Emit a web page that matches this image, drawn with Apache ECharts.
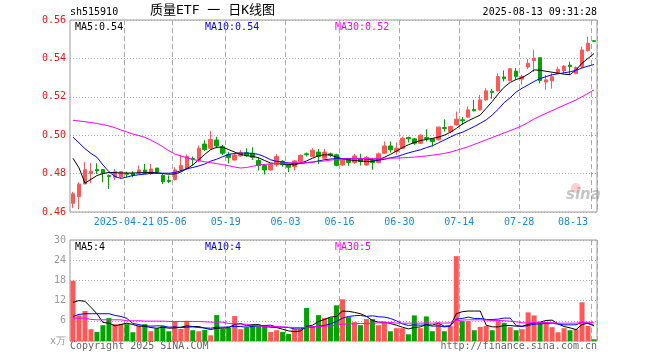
<!DOCTYPE html>
<html><head><meta charset="utf-8">
<script src="https://cdn.jsdelivr.net/npm/echarts@6/dist/echarts.min.js"></script>
<style>html,body{margin:0;padding:0;background:#fff}#c{width:660px;height:360px}</style>
</head><body><div id="c"></div>
<script>
const dates = ['2025-04-08','2025-04-09','2025-04-10','2025-04-11','2025-04-14','2025-04-15','2025-04-16','2025-04-17','2025-04-18','2025-04-21',
'2025-04-22','2025-04-23','2025-04-24','2025-04-25','2025-04-28','2025-04-29','2025-04-30','2025-05-06','2025-05-07','2025-05-08',
'2025-05-09','2025-05-12','2025-05-13','2025-05-14','2025-05-15','2025-05-16','2025-05-19','2025-05-20','2025-05-21','2025-05-22',
'2025-05-23','2025-05-26','2025-05-27','2025-05-28','2025-05-29','2025-05-30','2025-06-03','2025-06-04','2025-06-05','2025-06-06',
'2025-06-09','2025-06-10','2025-06-11','2025-06-12','2025-06-13','2025-06-16','2025-06-17','2025-06-18','2025-06-19','2025-06-20',
'2025-06-23','2025-06-24','2025-06-25','2025-06-26','2025-06-27','2025-06-30','2025-07-01','2025-07-02','2025-07-03','2025-07-04',
'2025-07-07','2025-07-08','2025-07-09','2025-07-10','2025-07-11','2025-07-14','2025-07-15','2025-07-16','2025-07-17','2025-07-18',
'2025-07-21','2025-07-22','2025-07-23','2025-07-24','2025-07-25','2025-07-28','2025-07-29','2025-07-30','2025-07-31','2025-08-01',
'2025-08-04','2025-08-05','2025-08-06','2025-08-07','2025-08-08','2025-08-11','2025-08-12','2025-08-13'];

const opens = [.4645,.4680,.4746,.4800,.4822,.4821,.4790,.4781,.4783,.4800,
.4800,.4802,.4819,.4802,.4829,.4790,.4764,.4769,.4819,.4824,
.4878,.4868,.4954,.4932,.4975,.4940,.4900,.4871,.4892,.4909,
.4906,.4868,.4842,.4819,.4847,.4864,.4847,.4836,.4862,.4903,
.4890,.4912,.4880,.4903,.4898,.4845,.4875,.4858,.4880,.4845,
.4868,.4858,.4906,.4944,.4915,.4932,.4988,.4981,.4958,.4988,
.4981,.4976,.5040,.5019,.5054,.5080,.5094,.5134,.5132,.5184,
.5229,.5231,.5303,.5285,.5334,.5292,.5355,.5389,.5404,.5277,
.5284,.5322,.5336,.5365,.5322,.5357,.5440,.5492];
const closes = [.4695,.4745,.4820,.4812,.4814,.4802,.4784,.4810,.4810,.4797,
.4791,.4819,.4802,.4824,.4807,.4758,.4759,.4819,.4842,.4889,
.4873,.4932,.4925,.4978,.4944,.4906,.4883,.4897,.4909,.4893,
.4885,.4842,.4819,.4847,.4889,.4847,.4833,.4866,.4895,.4898,
.4922,.4889,.4912,.4896,.4843,.4872,.4858,.4892,.4863,.4885,
.4858,.4903,.4944,.4924,.4932,.4984,.4981,.4958,.5000,.4983,
.4967,.5042,.5035,.5045,.5083,.5075,.5132,.5127,.5184,.5231,
.5223,.5306,.5295,.5346,.5306,.5306,.5375,.5401,.5285,.5288,
.5305,.5343,.5360,.5358,.5353,.5444,.5479,.5489];
const lows = [.4620,.4615,.4745,.4750,.4798,.4755,.4720,.4767,.4775,.4781,
.4781,.4798,.4798,.4793,.4798,.4746,.4750,.4764,.4807,.4819,
.4842,.4859,.4918,.4926,.4932,.4897,.4853,.4867,.4888,.4888,
.4871,.4816,.4795,.4816,.4836,.4836,.4807,.4816,.4854,.4889,
.4885,.4850,.4871,.4885,.4838,.4840,.4840,.4851,.4842,.4840,
.4820,.4854,.4903,.4910,.4898,.4927,.4962,.4950,.4955,.4967,
.4941,.4972,.5019,.5010,.5049,.5054,.5089,.5124,.5129,.5180,
.5190,.5228,.5280,.5280,.5289,.5263,.5344,.5330,.5270,.5237,
.5242,.5318,.5322,.5314,.5317,.5350,.5435,.5487];
const highs = [.4705,.4755,.4860,.4854,.4854,.4823,.4796,.4824,.4812,.4810,
.4812,.4842,.4850,.4850,.4829,.4798,.4790,.4833,.4897,.4900,
.4889,.4946,.4974,.5022,.4992,.4949,.4914,.4906,.4923,.4932,
.4937,.4885,.4850,.4854,.4902,.4871,.4850,.4871,.4900,.4910,
.4932,.4928,.4928,.4910,.4903,.4880,.4880,.4903,.4903,.4892,
.4880,.4910,.4967,.4967,.4962,.4993,.4993,.4984,.5005,.5031,
.4984,.5045,.5083,.5049,.5123,.5094,.5150,.5184,.5210,.5245,
.5240,.5323,.5337,.5350,.5350,.5315,.5396,.5445,.5404,.5313,
.5323,.5357,.5365,.5383,.5358,.5461,.5513,.5493];

const ma5 = [.4880,.4830,.4750,.4770,.4790,.4800,.4806,.4805,.4803,.4803,
.4803,.4804,.4805,.4806,.4804,.4800,.4797,.4798,.4808,.4825,
.4845,.4872,.4900,.4925,.4937,.4938,.4925,.4912,.4900,.4893,
.4890,.4882,.4868,.4855,.4852,.4850,.4848,.4845,.4855,.4866,
.4880,.4893,.4898,.4897,.4885,.4877,.4872,.4868,.4865,.4864,
.4864,.4870,.4885,.4900,.4917,.4935,.4950,.4962,.4972,.4978,
.4983,.4990,.5000,.5015,.5035,.5058,.5075,.5090,.5105,.5140,
.5175,.5215,.5250,.5275,.5290,.5300,.5318,.5340,.5338,.5333,
.5328,.5323,.5318,.5315,.5340,.5375,.5400,.5425];
const ma10 = [.4990,.4960,.4930,.4905,.4885,.4845,.4810,.4785,.4775,.4782,
.4790,.4794,.4797,.4801,.4802,.4802,.4802,.4805,.4815,.4825,
.4832,.4840,.4850,.4865,.4875,.4888,.4900,.4905,.4907,.4907,
.4905,.4900,.4888,.4872,.4864,.4860,.4856,.4852,.4853,.4856,
.4860,.4866,.4872,.4876,.4878,.4878,.4878,.4878,.4877,.4876,
.4872,.4870,.4874,.4882,.4888,.4898,.4908,.4916,.4924,.4935,
.4945,.4960,.4975,.4990,.5005,.5015,.5030,.5045,.5062,.5080,
.5105,.5135,.5170,.5195,.5225,.5245,.5262,.5280,.5295,.5305,
.5315,.5320,.5325,.5330,.5338,.5350,.5360,.5368];
const ma30 = [.5078,.5074,.5070,.5066,.5061,.5055,.5048,.5039,.5027,.5017,
.5006,.4998,.4989,.4975,.4958,.4940,.4919,.4902,.4892,.4883,
.4874,.4867,.4862,.4857,.4852,.4847,.4841,.4834,.4829,.4832,
.4838,.4845,.4848,.4851,.4853,.4854,.4855,.4856,.4857,.4858,
.4860,.4863,.4866,.4870,.4874,.4876,.4877,.4878,.4878,.4879,
.4879,.4879,.4880,.4880,.4881,.4882,.4884,.4886,.4889,.4892,
.4896,.4900,.4905,.4912,.4921,.4930,.4940,.4952,.4964,.4976,
.4988,.5000,.5012,.5024,.5036,.5050,.5066,.5085,.5100,.5114,
.5128,.5142,.5156,.5170,.5184,.5200,.5218,.5236];

const volumes = [17.9,7.6,8.9,3.5,2.7,4.7,6.8,5.0,5.1,5.0,
2.6,4.5,5.0,2.9,3.8,4.4,2.9,5.7,3.6,6.0,
3.2,2.9,3.3,1.7,7.7,3.6,3.9,7.4,3.5,4.0,
5.0,4.4,4.5,2.7,3.2,2.7,2.1,3.5,3.5,9.8,
4.4,7.7,6.8,7.0,10.6,12.4,7.1,5.6,4.7,6.5,
6.5,4.7,5.5,2.9,3.8,3.8,2.0,7.6,3.8,7.3,
2.9,5.0,2.9,4.4,25.2,5.9,5.9,3.2,4.2,4.5,
3.2,5.9,5.4,4.1,3.2,3.5,8.5,7.6,5.4,5.6,
4.1,2.6,3.8,3.2,3.5,11.5,4.5,0.5];
const vma5 = [11.5,12.0,11.8,10.0,8.1,5.5,5.3,4.5,4.9,5.3,
4.9,4.4,4.4,4.0,3.8,4.1,3.8,3.9,4.1,4.5,
4.3,4.3,3.8,3.4,3.8,3.8,4.0,4.9,5.2,4.5,
4.8,4.9,4.3,4.1,4.0,3.5,3.0,2.8,3.0,4.3,
4.7,5.8,6.4,7.1,7.3,8.9,8.8,8.5,8.1,7.3,
6.1,5.6,5.6,5.2,4.7,4.1,3.6,4.0,4.2,4.9,
4.7,5.3,4.4,4.5,8.1,8.7,8.9,8.9,8.9,4.7,
4.2,4.2,4.6,4.6,4.4,4.4,4.9,5.4,5.6,6.1,
6.2,5.1,4.3,3.9,3.4,4.9,5.3,4.6];
const vma10 = [7.3,7.9,8.1,8.1,8.1,8.1,8.1,7.6,7.3,6.7,
5.2,4.9,4.5,4.4,4.5,4.5,4.1,4.2,4.0,4.1,
4.2,4.0,3.9,3.8,4.1,4.1,4.2,4.3,4.3,4.1,
4.3,4.5,4.6,4.7,4.2,4.1,4.0,3.6,3.6,4.1,
4.1,4.4,4.6,5.1,5.8,6.8,7.3,7.5,7.6,7.3,
7.5,7.2,7.1,6.7,6.0,5.1,4.6,4.8,4.7,4.8,
4.4,4.5,4.2,4.4,6.5,6.7,7.1,6.7,6.7,6.4,
6.4,6.5,6.8,6.8,4.6,4.3,4.6,5.0,5.1,5.2,
5.3,5.0,4.8,4.8,4.8,5.6,5.2,4.5];
const vma30 = [6.8,6.8,6.8,6.4,6.3,6.3,6.3,6.3,6.3,6.0,
6.0,6.0,5.9,5.9,5.9,5.9,5.8,5.8,5.8,5.8,
5.8,5.8,5.7,5.6,5.6,5.6,5.2,5.1,5.0,5.0,
4.6,4.5,4.3,4.3,4.3,4.2,4.1,4.0,4.0,4.1,
4.2,4.3,4.4,4.5,4.7,5.0,5.1,5.1,5.2,5.2,
5.3,5.4,5.4,5.5,5.3,5.3,5.3,5.3,5.3,5.4,
5.3,5.4,5.3,5.4,6.1,6.2,6.3,6.3,6.3,6.2,
6.1,6.1,6.0,5.9,5.7,5.4,5.4,5.5,5.5,5.5,
5.4,5.3,5.3,5.3,5.3,5.5,5.6,5.4];

const tickDates = ['2025-04-21','2025-05-06','2025-05-19','2025-06-03','2025-06-16','2025-06-30','2025-07-14','2025-07-28','2025-08-13'];
const tickLabels = ['2025-04-21','05-06','05-19','06-03','06-16','06-30','07-14','07-28','08-13'];

const RED = '#ff5656', GREEN = '#04a304';
const MONO = 'DejaVu Sans Mono';
const GRID = '#aaaaaa';
const showTick = (i, v) => tickDates.indexOf(v) >= 0;

const chart = echarts.init(document.getElementById('c'), null, {renderer: 'canvas'});
function maLine(name, data, color, xi) {
  return {name, type: 'line', data, xAxisIndex: xi, yAxisIndex: xi, symbol: 'none',
    lineStyle: {color, width: 1}, itemStyle: {color}, z: 3, silent: true};
}
function catAxis(gi, showLabel) {
  return {type: 'category', gridIndex: gi, data: dates, boundaryGap: true,
    axisLine: {show: false}, axisTick: {show: false},
    axisLabel: {show: showLabel, interval: showTick, color: '#1a88d8', fontFamily: MONO, fontSize: 10,
      margin: 5, padding: [0, 6, 0, 0], alignMaxLabel: 'right',
      formatter: v => tickLabels[tickDates.indexOf(v)] || ''},
    splitLine: {show: true, interval: showTick, lineStyle: {color: GRID, type: [5, 3], width: 1}}};
}
const option = {
  animation: false,
  backgroundColor: '#fff',
  grid: [
    {left: 70, top: 20, width: 527, height: 192, show: true, borderColor: '#999', borderWidth: 1, backgroundColor: 'transparent'},
    {left: 70, top: 240, width: 527, height: 101, show: true, borderColor: '#999', borderWidth: 1, backgroundColor: 'transparent'}
  ],
  xAxis: [catAxis(0, true), catAxis(1, false)],
  yAxis: [
    {type: 'value', gridIndex: 0, min: 0.46, max: 0.56, interval: 0.02,
      axisLine: {show: false}, axisTick: {show: false},
      axisLabel: {color: '#ee1111', fontFamily: MONO, fontSize: 10, margin: 4, formatter: v => v.toFixed(2)},
      splitLine: {lineStyle: {color: GRID, type: [1, 2]}}},
    {type: 'value', gridIndex: 1, min: 0, max: 30, interval: 6,
      axisLine: {show: false}, axisTick: {show: false},
      axisLabel: {color: '#999', fontFamily: MONO, fontSize: 10, margin: 4, formatter: v => v === 0 ? 'x万' : String(v)},
      splitLine: {lineStyle: {color: GRID, type: [1, 2]}}}
  ],
  series: [
    {name: 'K', type: 'candlestick', xAxisIndex: 0, yAxisIndex: 0, barWidth: 4,
      data: opens.map((o, i) => [o, closes[i], lows[i], highs[i]]),
      itemStyle: {color: RED, color0: GREEN, borderColor: RED, borderColor0: GREEN, borderWidth: 1}, z: 2},
    maLine('MA5', ma5, '#000000', 0),
    maLine('MA10', ma10, '#0000ff', 0),
    maLine('MA30', ma30, '#ff00ff', 0),
    {name: 'VOL', type: 'bar', xAxisIndex: 1, yAxisIndex: 1, barWidth: 5,
      data: volumes.map((v, i) => ({value: v, itemStyle: {color: closes[i] >= opens[i] ? RED : GREEN}})), z: 2},
    maLine('VMA5', vma5, '#000000', 1),
    maLine('VMA10', vma10, '#0000ff', 1),
    maLine('VMA30', vma30, '#ff00ff', 1)
  ],
  graphic: [
    {type: 'text', left: 70, top: 7, style: {text: 'sh515910', font: '10px "DejaVu Sans Mono"', fill: '#000'}},
    {type: 'text', left: 150, top: 4, style: {text: '质量ETF 一 日K线图', font: '13px "DejaVu Sans Mono", "Noto Sans CJK SC"', fill: '#000'}},
    {type: 'text', right: 63, top: 7, style: {text: '2025-08-13 09:31:28', font: '10px "DejaVu Sans Mono"', fill: '#000'}},
    {type: 'text', left: 75, top: 22, style: {text: 'MA5:0.54', font: '10px "DejaVu Sans Mono"', fill: '#000'}},
    {type: 'text', left: 205, top: 22, style: {text: 'MA10:0.54', font: '10px "DejaVu Sans Mono"', fill: '#0000ff'}},
    {type: 'text', left: 335, top: 22, style: {text: 'MA30:0.52', font: '10px "DejaVu Sans Mono"', fill: '#ff00ff'}},
    {type: 'text', left: 75, top: 242, style: {text: 'MA5:4', font: '10px "DejaVu Sans Mono"', fill: '#000'}},
    {type: 'text', left: 205, top: 242, style: {text: 'MA10:4', font: '10px "DejaVu Sans Mono"', fill: '#0000ff'}},
    {type: 'text', left: 335, top: 242, style: {text: 'MA30:5', font: '10px "DejaVu Sans Mono"', fill: '#ff00ff'}},
    {type: 'text', left: 70, top: 341, style: {text: 'Copyright 2025 SINA.COM', font: '10px "DejaVu Sans Mono"', fill: '#666'}},
    {type: 'text', right: 63, top: 341, style: {text: 'http://finance.sina.com.cn', font: '10px "DejaVu Sans Mono"', fill: '#666'}},
    {type: 'circle', shape: {cx: 576, cy: 188, r: 5}, style: {fill: 'rgba(240,120,120,0.35)'}, z: 1},
    {type: 'text', left: 566, top: 188, style: {text: 'sina', font: 'italic bold 15px "DejaVu Sans"', fill: 'rgba(150,150,150,0.55)'}, z: 1}
  ]
};
chart.setOption(option);
</script>
</body></html>
